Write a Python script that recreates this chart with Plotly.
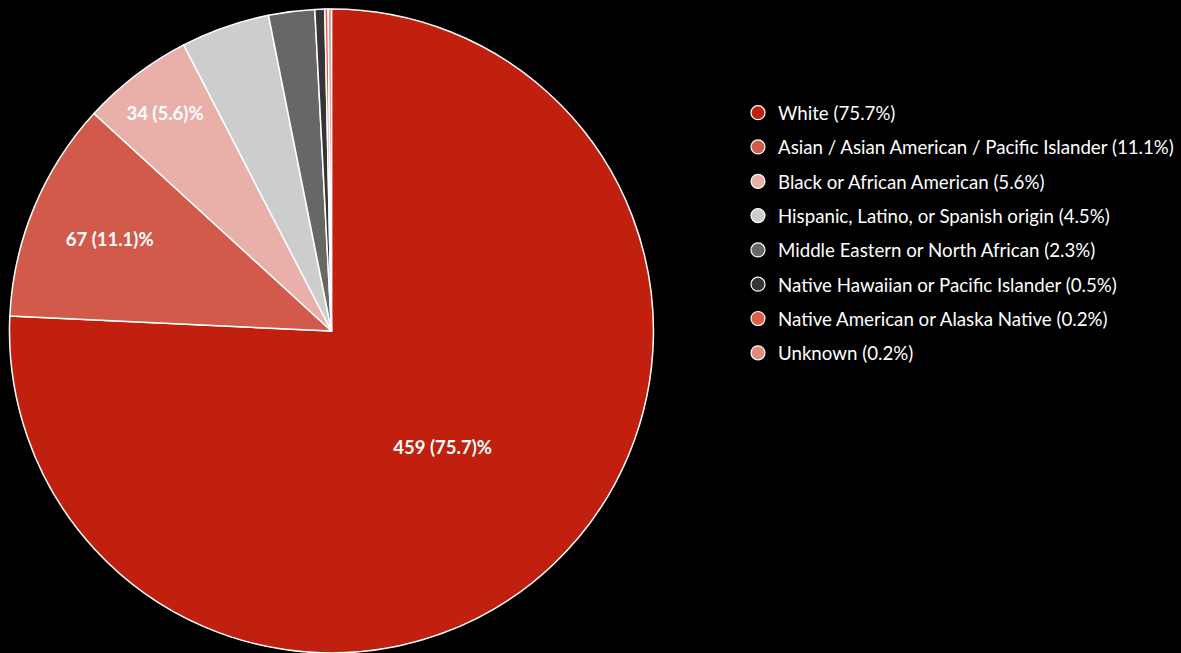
import plotly.graph_objects as go

# Respondent counts by race / ethnicity
categories = [
    "White",
    "Asian / Asian American / Pacific Islander",
    "Black or African American",
    "Hispanic, Latino, or Spanish origin",
    "Middle Eastern or North African",
    "Native Hawaiian or Pacific Islander",
    "Native American or Alaska Native",
    "Unknown",
]
counts = [459, 67, 34, 27, 14, 3, 1, 1]
percents = [75.7, 11.1, 5.6, 4.5, 2.3, 0.5, 0.2, 0.2]
colors = ["#C1200E", "#D25A4B", "#E9B0A9", "#CDCDCD",
          "#676767", "#353535", "#DD5E49", "#E0897F"]
show_label = [True, True, True, False, False, False, False, False]

font_family = "Lato, 'Open Sans', sans-serif"

fig = go.Figure()

fig.add_trace(go.Pie(
    labels=categories,
    values=counts,
    customdata=percents,
    sort=False,
    direction="clockwise",
    rotation=0,
    marker=dict(colors=colors, line=dict(color="#FFFFFF", width=1.5)),
    texttemplate="<b>%{value} (%{customdata})%</b>",
    textposition=["inside" if s else "none" for s in show_label],
    insidetextorientation="horizontal",
    textfont=dict(color="#FFFFFF", size=18.5, family=font_family),
    hovertemplate="%{label}: %{value}<extra></extra>",
    domain=dict(x=[0, 0.5503], y=[0, 1]),
    showlegend=False,
))

# Legend entries with round markers
for i, (name, pct, col) in enumerate(zip(categories, percents, colors)):
    fig.add_trace(go.Scatter(
        x=[None], y=[None],
        mode="markers",
        name=f"{name} ({pct}%)",
        legendgroup=f"g{i}",
        marker=dict(symbol="circle", size=14, color=col,
                    line=dict(color="#FFFFFF", width=1.2)),
        hoverinfo="skip",
    ))

fig.update_xaxes(visible=False)
fig.update_yaxes(visible=False)

fig.update_layout(
    width=1181,
    height=653,
    paper_bgcolor="#000000",
    plot_bgcolor="#000000",
    margin=dict(l=9, r=0, t=9, b=0, autoexpand=False),
    font=dict(family=font_family, color="#FFFFFF"),
    legend=dict(
        x=0.622, y=0.868,
        xanchor="left", yanchor="top",
        traceorder="grouped",
        tracegroupgap=7,
        font=dict(size=18.7, color="#FFFFFF", family=font_family),
        bgcolor="rgba(0,0,0,0)",
        itemclick=False,
    ),
)

fig.write_html("out.html")
